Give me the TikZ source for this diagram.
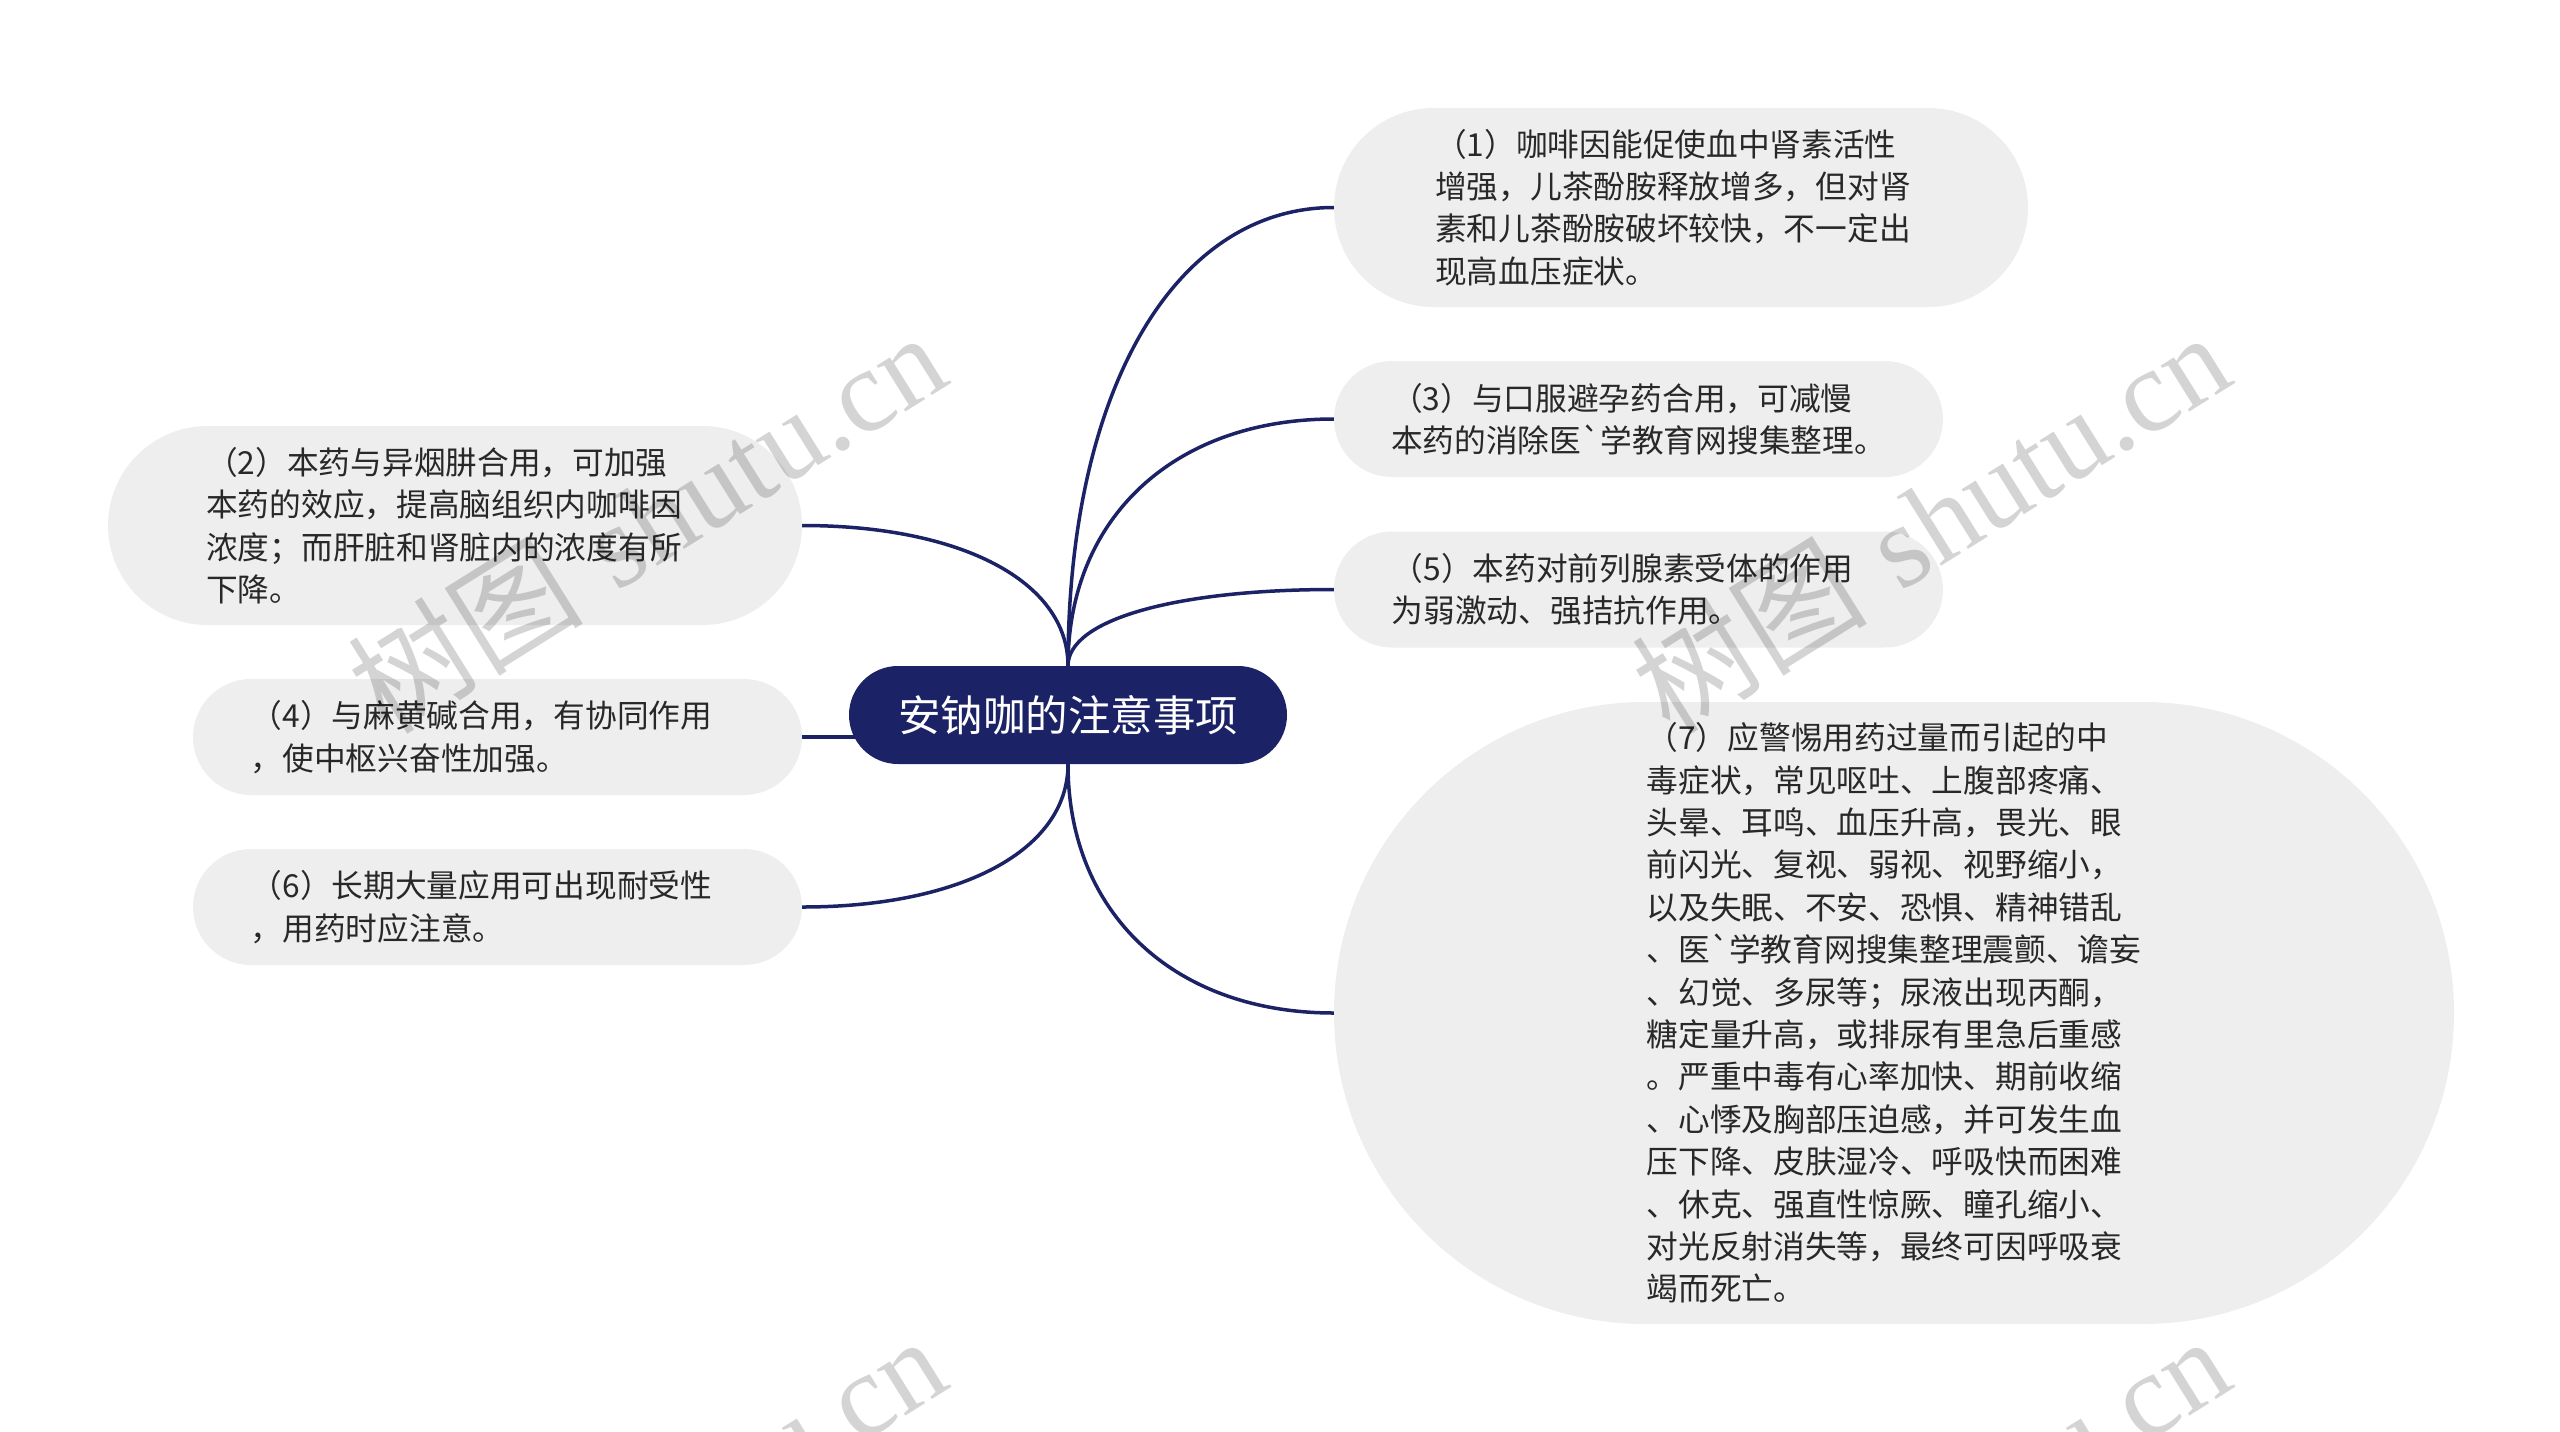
\documentclass[tikz,border=0pt]{standalone}
\usepackage{fontspec}
\newfontfamily\cjk{Noto Sans CJK SC}
\newfontfamily\wmlatin{Liberation Serif}
\usetikzlibrary{shapes.misc,calc,backgrounds}
\definecolor{navy}{RGB}{27,34,102}
\definecolor{boxgray}{RGB}{238,238,238}
\definecolor{txt}{RGB}{40,40,40}
\tikzset{
  leafbox/.style={rounded rectangle, fill=boxgray, draw=none, inner sep=0pt},
  leaftext/.style={inner sep=0pt, align=left, text=txt,
    font={\cjk\fontsize{31.7}{42.4}\selectfont}},
  root/.style={rounded rectangle, fill=navy, draw=none, text=white, inner sep=0pt,
    minimum width=438, minimum height=98, font={\cjk\fontsize{42.5}{50}\selectfont}},
  link/.style={draw=navy, line width=3.5pt},
  branch/.style={to path={.. controls ($(\tikztostart)!0.6!(\tikztostart |- \tikztotarget)$)
      and ($(\tikztotarget)!0.6!(\tikztotarget -| \tikztostart)$) .. (\tikztotarget)}},
  wm/.style={text=black, text opacity=0.17, rotate=32, inner sep=0pt,
    font={\fontsize{118}{118}\selectfont}}
}
\begin{document}
\begin{tikzpicture}[x=1pt,y=-1pt]
\useasboundingbox (0,0) rectangle (2560,1432);

% central topic
\node[root] (cn) at (1068,715) {安钠咖的注意事项};

% right side boxes
\node[leafbox, minimum width=694, minimum height=199] (b1) at (1681,207.5) {};
\node[leafbox, minimum width=609, minimum height=116] (b3) at (1638.5,419) {};
\node[leafbox, minimum width=609, minimum height=116] (b5) at (1638.5,589.5) {};
\node[leafbox, minimum width=1120, minimum height=622] (b7) at (1894,1013) {};
% left side boxes
\node[leafbox, minimum width=694, minimum height=199] (b2) at (455,525.5) {};
\node[leafbox, minimum width=609, minimum height=116] (b4) at (497.5,737) {};
\node[leafbox, minimum width=609, minimum height=116] (b6) at (497.5,907) {};

% texts
\node[leaftext, xshift=-8] (t1) at (b1)
  {（1）咖啡因能促使血中肾素活性\\增强，儿茶酚胺释放增多，但对肾\\素和儿茶酚胺破坏较快，不一定出\\现高血压症状。};
\node[leaftext] (t3) at (b3)
  {（3）与口服避孕药合用，可减慢\\本药的消除医`学教育网搜集整理。};
\node[leaftext, xshift=-16] (t5) at (b5)
  {（5）本药对前列腺素受体的作用\\为弱激动、强拮抗作用。};
\node[leaftext] (t7) at (b7)
  {（7）应警惕用药过量而引起的中\\毒症状，常见呕吐、上腹部疼痛、\\头晕、耳鸣、血压升高，畏光、眼\\前闪光、复视、弱视、视野缩小，\\以及失眠、不安、恐惧、精神错乱\\、医`学教育网搜集整理震颤、谵妄\\、幻觉、多尿等；尿液出现丙酮，\\糖定量升高，或排尿有里急后重感\\。严重中毒有心率加快、期前收缩\\、心悸及胸部压迫感，并可发生血\\压下降、皮肤湿冷、呼吸快而困难\\、休克、强直性惊厥、瞳孔缩小、\\对光反射消失等，最终可因呼吸衰\\竭而死亡。};
\node[leaftext, xshift=-11] (t2) at (b2)
  {（2）本药与异烟肼合用，可加强\\本药的效应，提高脑组织内咖啡因\\浓度；而肝脏和肾脏内的浓度有所\\下降。};
\node[leaftext, xshift=-16] (t4) at (b4)
  {（4）与麻黄碱合用，有协同作用\\，使中枢兴奋性加强。};
\node[leaftext, xshift=-16] (t6) at (b6)
  {（6）长期大量应用可出现耐受性\\，用药时应注意。};

% connectors
\begin{pgfonlayer}{background}
  \draw[link] (cn.north) to[branch] (b1.west);
  \draw[link] (cn.north) to[branch] (b3.west);
  \draw[link] (cn.north) to[branch] (b5.west);
  \draw[link] (cn.south) to[branch] (b7.west);
  \draw[link] (cn.north) to[branch] (b2.east);
  \draw[link] (b4.east) -- (b4.east -| cn.center);
  \draw[link] (cn.south) to[branch] (b6.east);
\end{pgfonlayer}

% watermarks
\node[wm] (w1) at (646,521) {{\cjk 树图} {\wmlatin shutu.cn}};
\node[wm] (w2) at (1930,521) {{\cjk 树图} {\wmlatin shutu.cn}};
\node[wm] (w3) at (646,1525) {{\cjk 树图} {\wmlatin shutu.cn}};
\node[wm] (w4) at (1930,1525) {{\cjk 树图} {\wmlatin shutu.cn}};
\end{tikzpicture}
\end{document}
